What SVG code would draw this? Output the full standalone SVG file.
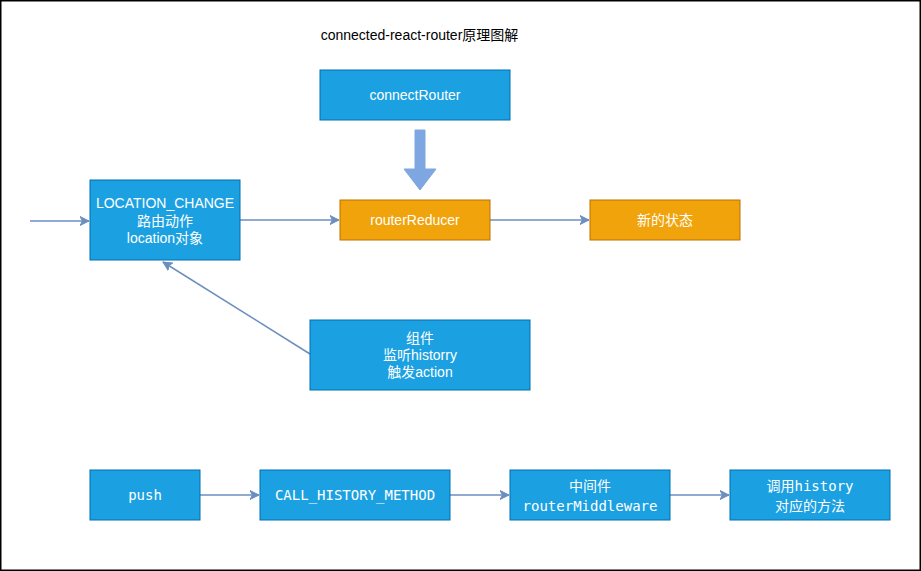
<svg xmlns="http://www.w3.org/2000/svg" width="921" height="571" viewBox="0 0 921 571">
<style>
.blue{fill:#1BA1E2;stroke:#006EAF;stroke-width:1}
.orange{fill:#F0A30A;stroke:#BD7000;stroke-width:1}
.t{fill:#FFFFFF;font-family:"Liberation Sans","Noto Sans CJK SC",sans-serif;font-size:14px;text-anchor:middle}
.m{fill:#FFFFFF;font-family:"DejaVu Sans Mono","Noto Sans CJK SC",monospace;font-size:14px;text-anchor:middle}
.title{fill:#000000;font-family:"Liberation Sans","Noto Sans CJK SC",sans-serif;font-size:14px;text-anchor:middle}
.edge{fill:none;stroke:#6C8EBF;stroke-width:1.5}
</style>
<defs>
<marker id="arr" markerUnits="userSpaceOnUse" markerWidth="12" markerHeight="10" refX="9" refY="5" orient="auto">
<path d="M0,0.5 L9,5 L0,9.5 L2.5,5 Z" fill="#6C8EBF" stroke="#6C8EBF" stroke-width="1"/>
</marker>
</defs>
<rect x="0.75" y="0.75" width="919.5" height="569.5" fill="#FFFFFF" stroke="#000000" stroke-width="1.5"/>
<text class="title" x="419.5" y="40">connected-react-router原理图解</text>

<g id="connectors">
<path class="edge" d="M30,221 L89,221" marker-end="url(#arr)"/>
<path class="edge" d="M240,220 L339,220" marker-end="url(#arr)"/>
<path class="edge" d="M490,220 L589,220" marker-end="url(#arr)"/>
<path class="edge" d="M310,354 L163,262" marker-end="url(#arr)"/>
<path class="edge" d="M200,495 L259,495" marker-end="url(#arr)"/>
<path class="edge" d="M450,495 L509,495" marker-end="url(#arr)"/>
<path class="edge" d="M670,495 L729,495" marker-end="url(#arr)"/>
<path d="M415,130 L425,130 L425,169 L436,169 L420,190 L404,169 L415,169 Z" fill="#7EA6E0" stroke="#7EA6E0" stroke-width="1"/>
</g>

<g id="connectRouter">
<rect class="blue" x="320" y="70" width="190" height="50"/>
<text class="t" x="415" y="100">connectRouter</text>
</g>
<g id="locationChange">
<rect class="blue" x="90" y="180" width="150" height="80"/>
<text class="t" x="165" y="208">LOCATION_CHANGE</text>
<text class="t" x="165" y="225.5">路由动作</text>
<text class="t" x="165" y="243">location对象</text>
</g>
<g id="routerReducer">
<rect class="orange" x="340" y="200" width="150" height="40"/>
<text class="t" x="415" y="225">routerReducer</text>
</g>
<g id="newState">
<rect class="orange" x="590" y="200" width="150" height="40"/>
<text class="t" x="665" y="225">新的状态</text>
</g>
<g id="component">
<rect class="blue" x="310" y="320" width="220" height="70"/>
<text class="t" x="420" y="343">组件</text>
<text class="t" x="420" y="360">监听historry</text>
<text class="t" x="420" y="377">触发action</text>
</g>
<g id="push">
<rect class="blue" x="90" y="470" width="110" height="50"/>
<text class="m" x="145" y="500">push</text>
</g>
<g id="callHistoryMethod">
<rect class="blue" x="260" y="470" width="190" height="50"/>
<text class="m" x="355" y="500">CALL_HISTORY_METHOD</text>
</g>
<g id="routerMiddleware">
<rect class="blue" x="510" y="470" width="160" height="50"/>
<text class="m" x="590" y="490.5">中间件</text>
<text class="m" x="590" y="511">routerMiddleware</text>
</g>
<g id="callHistory">
<rect class="blue" x="730" y="470" width="160" height="50"/>
<text class="m" x="810" y="490.5">调用history</text>
<text class="m" x="810" y="511">对应的方法</text>
</g>
</svg>
